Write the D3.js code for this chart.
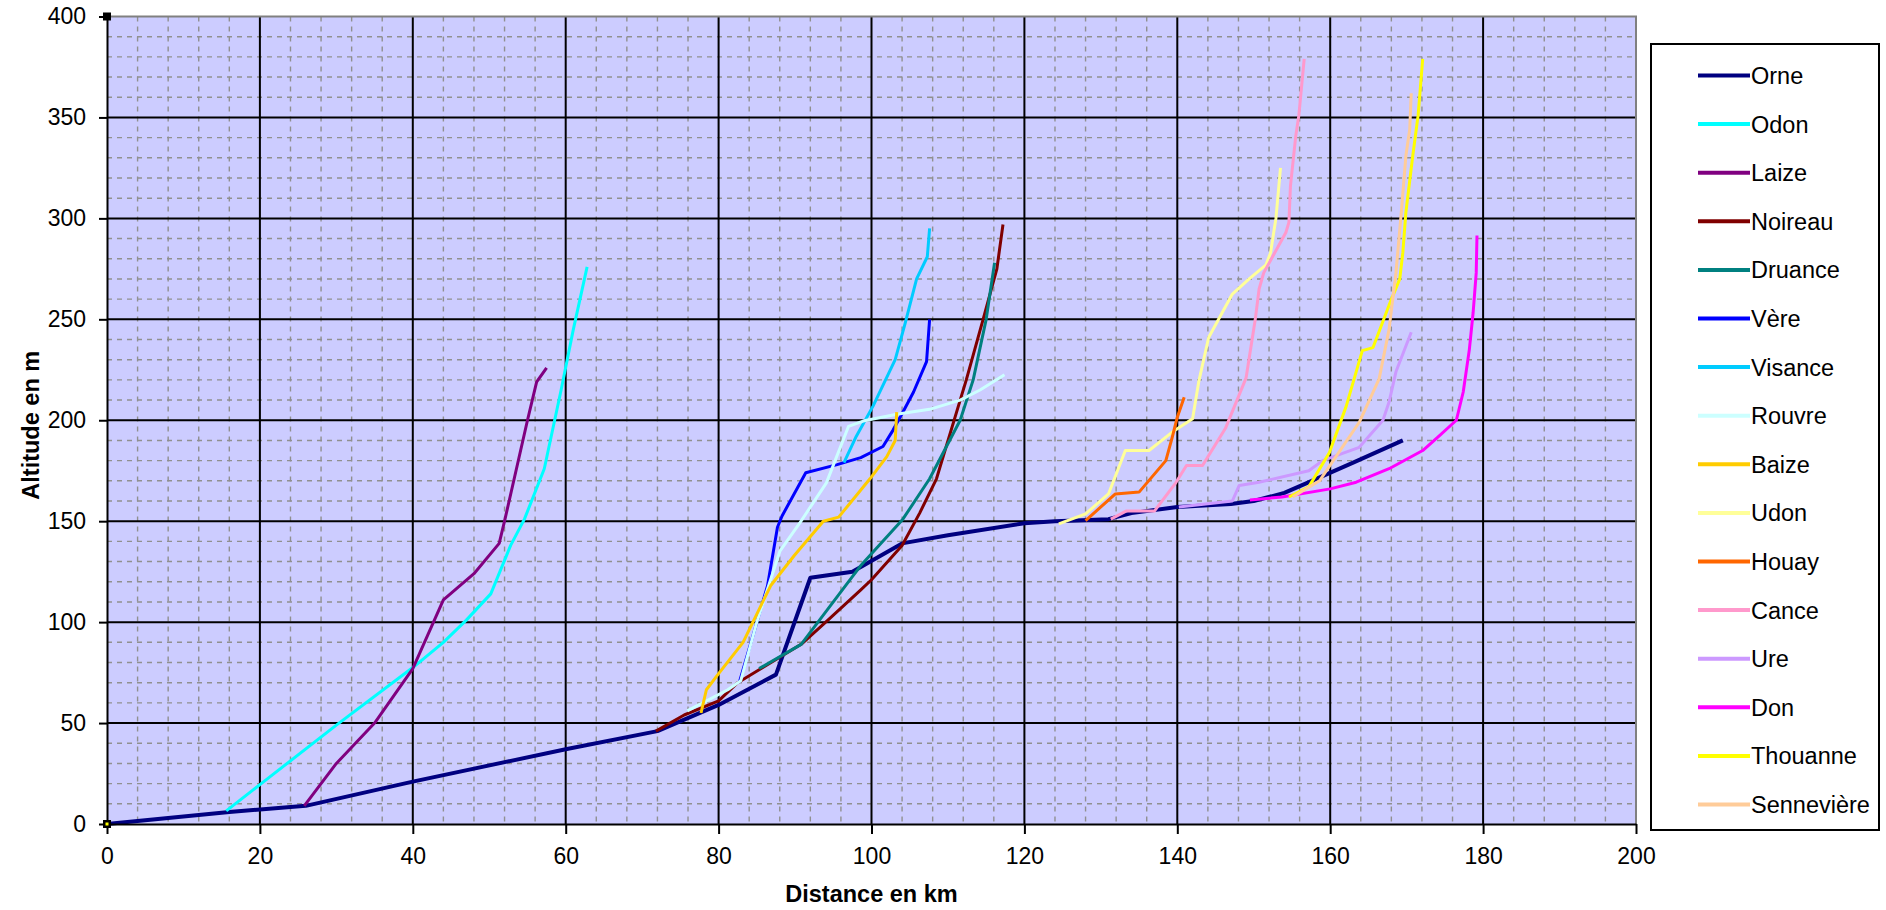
<!DOCTYPE html>
<html><head><meta charset="utf-8">
<script src="https://cdn.jsdelivr.net/npm/d3@7"></script>
<style>
body{margin:0;background:#fff;}
svg{display:block;font-family:"Liberation Sans",Arial,sans-serif;}
</style>
</head><body>
<svg id="chart" width="1886" height="910"></svg>
<script>
// ---- data (distance km, altitude m) ----
const seriesNames = ["Orne","Odon","Laize","Noireau","Druance","Vère","Visance","Rouvre","Baize","Udon","Houay","Cance","Ure","Don","Thouanne","Sennevière"];
const seriesColors = ["#000080","#00FFFF","#800080","#800000","#008080","#0000FF","#00CCFF","#CCFFFF","#FFCC00","#FFFF99","#FF6600","#FF99CC","#CC99FF","#FF00FF","#FFFF00","#FFCC99"];

const orne = [[0,0],[8,3],[16,6],[26,9],[40,21],[60,37],[72,46],[80,59],[87.5,74],[92,122],[97.5,125],[104,139],[110,143],[120,149],[124,150],[131,151],[134,154],[140,157],[147,158.5],[150,160],[154,164],[157,169],[163,179],[169.5,190]];
const odon = [[15.6,6.5],[20,19.5],[30,49],[40,77.5],[44,90],[47,101],[50.2,114],[52.8,138],[54.6,151],[57.2,176],[59.4,215],[61,245],[62.8,276]];
const laize = [[25.8,9],[30,30],[35,50],[40,77],[44,111],[48,124],[51.3,139],[52,150],[55,200],[56.2,219],[57.5,226]];
const noireau = [[71.8,46],[75.5,54],[80,61],[82.5,70],[86,78],[90.8,89],[94.3,101],[98.6,116],[100,121],[104,138],[106.3,154],[108.5,171],[111.6,210],[112.4,220],[114.6,250],[116.4,275],[117.2,297]];
const druance = [[85.3,77],[90.8,89],[97.4,122],[98.6,128],[104.1,151],[107.6,171],[111.6,200],[113.3,220],[115,250],[116.1,278]];
const vere = [[82.7,70],[86.4,118],[87.7,147],[88.3,152.6],[91.4,174],[95.5,178],[98.6,181.5],[101.5,187],[102.8,195],[104.1,204],[105.5,214],[107.2,229],[107.6,250]];
const visance = [[96.4,179],[98,192],[100.2,207],[103.1,230],[104.4,248],[105.9,270],[107.3,281],[107.6,295]];
const rouvre = [[75.9,56],[81.2,66.5],[82.9,71],[85,100],[88,135],[90.6,149],[94.1,169],[97,197],[98.9,199.6],[103.3,203],[107.6,205.4],[111.6,210],[114.2,215],[117.4,222.5]];
const baize = [[77.7,55],[78.4,66.5],[79.9,74],[83.2,90],[86.8,118],[89.9,133],[93.7,150],[95.7,152],[99.8,171],[102,182],[103.1,190],[103.3,204]];
const udon = [[124.5,148.7],[128,153.6],[131,163.5],[133.2,185],[136.3,185],[139.3,194],[142,200.7],[142.8,219],[144.1,241],[147.2,262.5],[149.4,270],[151.6,277],[152.2,283],[152.9,300],[153.5,325]];
const houay = [[128,150.3],[131.9,163.5],[135,164.4],[138.5,180],[139.3,191],[140,201.5],[140.9,211.4]];
const cance = [[131.3,151],[133.3,155],[137,155],[139.8,169],[141.2,177.6],[143.3,177.6],[146.3,196],[149,221],[150.2,250],[150.7,265],[151.3,273],[154.2,293],[154.6,298],[154.8,316],[155.5,341],[155.9,351],[156.6,379]];
const ure = [[140.2,157],[147.2,160],[148.1,167.7],[150.7,169.3],[157.2,175],[159,180],[163.8,186.6],[166.9,200],[167.7,209],[168.6,224],[170.6,243.6]];
const don = [[149.5,160.5],[153.7,162],[160,166],[163.4,169.3],[167.7,176],[172.1,185],[174.3,192.4],[176.5,200],[177.4,214],[178.2,235],[178.7,253.5],[179.1,273],[179.2,291.5]];
const thouanne = [[154.6,162],[157.2,167],[159.9,184],[162.1,207],[164.2,234.5],[165.6,236],[167.7,257],[169.1,270],[169.5,283],[169.9,303],[170.8,331],[171.5,351],[172.1,379]];
const senneviere = [[155.1,162],[158.6,170],[163.8,199],[166.4,220.5],[167.7,245],[168.6,273],[169.3,303],[169.9,331],[170.4,344],[170.6,362]];

const seriesData = [orne,odon,laize,noireau,druance,vere,visance,rouvre,baize,udon,houay,cance,ure,don,thouanne,senneviere];

const xTicks = [0,20,40,60,80,100,120,140,160,180,200];
const yTicks = [0,50,100,150,200,250,300,350,400];
const xTitle = "Distance en km";
const yTitle = "Altitude en m";

// ---- layout ----
const P = {left:107, right:1636, top:16.5, bottom:824};
const svg = d3.select("#chart");
const x = d3.scaleLinear().domain([0,200]).range([P.left,P.right]);
const y = d3.scaleLinear().domain([0,400]).range([P.bottom,P.top]);

// plot background
svg.append("rect").attr("x",P.left).attr("y",P.top)
  .attr("width",P.right-P.left).attr("height",P.bottom-P.top)
  .attr("fill","#CCCCFF");

// minor gridlines
const g = svg.append("g");
const minorX = d3.range(4,200,4).filter(v=>v%20!==0);
const minorY = d3.range(10,400,10).filter(v=>v%50!==0);
g.selectAll(".mx").data(minorX).enter().append("line")
  .attr("x1",d=>x(d)).attr("x2",d=>x(d)).attr("y1",P.top).attr("y2",P.bottom)
  .attr("stroke","#909090").attr("stroke-width",1.4).attr("stroke-dasharray","5,5");
g.selectAll(".my").data(minorY).enter().append("line")
  .attr("y1",d=>y(d)).attr("y2",d=>y(d)).attr("x1",P.left).attr("x2",P.right)
  .attr("stroke","#909090").attr("stroke-width",1.4).attr("stroke-dasharray","5,5");

// major gridlines
g.selectAll(".Mx").data(xTicks.slice(1,-1)).enter().append("line")
  .attr("x1",d=>x(d)).attr("x2",d=>x(d)).attr("y1",P.top).attr("y2",P.bottom)
  .attr("stroke","#000").attr("stroke-width",2);
g.selectAll(".My").data(yTicks.slice(1,-1)).enter().append("line")
  .attr("y1",d=>y(d)).attr("y2",d=>y(d)).attr("x1",P.left).attr("x2",P.right)
  .attr("stroke","#000").attr("stroke-width",2);

// plot border top/right
svg.append("path")
  .attr("d",`M${P.left},${P.top}H${P.right}V${P.bottom}`)
  .attr("fill","none").attr("stroke","#808080").attr("stroke-width",2);

// series
const line = d3.line().x(d=>x(d[0])).y(d=>y(d[1]));
seriesData.forEach((data,i)=>{
  svg.append("path").datum(data).attr("d",line)
    .attr("fill","none").attr("stroke",seriesColors[i])
    .attr("stroke-width", i===0?4:3).attr("stroke-linejoin","round");
});

// axes
const xAxis = svg.append("g").attr("transform",`translate(0,${P.bottom})`)
  .call(d3.axisBottom(x).tickValues(xTicks).tickSize(10).tickPadding(14).tickSizeOuter(0));
const yAxis = svg.append("g").attr("transform",`translate(${P.left},0)`)
  .call(d3.axisLeft(y).tickValues(yTicks).tickSize(8).tickPadding(13).tickSizeOuter(0));
[xAxis,yAxis].forEach(a=>{
  a.select(".domain").attr("stroke","#000").attr("stroke-width",2);
  a.selectAll(".tick line").attr("stroke","#000").attr("stroke-width",2);
  a.selectAll(".tick text").attr("font-size",23).attr("fill","#000")
    .attr("font-family",'"Liberation Sans",Arial,sans-serif');
});

// corner handle marks
svg.append("rect").attr("x",x(0)-4).attr("y",y(400)-4).attr("width",8).attr("height",8).attr("fill","#000");
svg.append("rect").attr("x",x(0)-4).attr("y",y(0)-4).attr("width",8).attr("height",8).attr("fill","#000");
svg.append("rect").attr("x",x(0)-1.5).attr("y",y(0)-1.5).attr("width",3).attr("height",3).attr("fill","#FFFF00");

// axis titles
svg.append("text").attr("x",(P.left+P.right)/2).attr("y",902)
  .attr("text-anchor","middle").attr("font-weight","bold").attr("font-size",23.5).text(xTitle);
svg.append("text").attr("transform",`translate(39,${(P.top+P.bottom)/2+5}) rotate(-90)`)
  .attr("text-anchor","middle").attr("font-weight","bold").attr("font-size",23.5).text(yTitle);

// legend
const L = {x:1651, y:44, w:228, h:786, row:48.6, first:75.5};
svg.append("rect").attr("x",L.x).attr("y",L.y).attr("width",L.w).attr("height",L.h)
  .attr("fill","#fff").attr("stroke","#000").attr("stroke-width",2);
const leg = svg.append("g").selectAll("g").data(seriesNames).enter().append("g")
  .attr("transform",(d,i)=>`translate(0,${L.first+i*L.row})`);
leg.append("line").attr("x1",1698).attr("x2",1750).attr("y1",0).attr("y2",0)
  .attr("stroke",(d,i)=>seriesColors[i]).attr("stroke-width",4);
leg.append("text").attr("x",1751).attr("y",8.5).attr("font-size",23.5).attr("fill","#000").text(d=>d);
</script>
</body></html>
